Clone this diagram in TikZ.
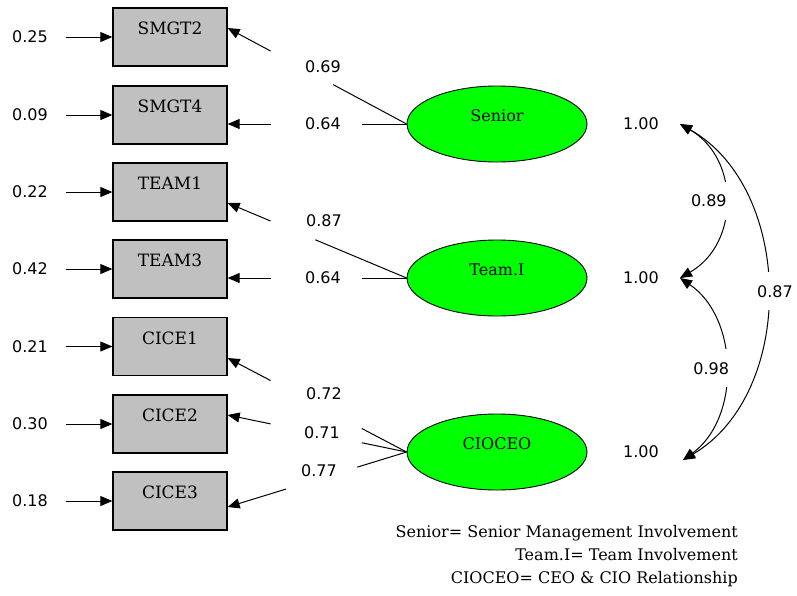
\documentclass[tikz,border=0pt]{standalone}
\usepackage{fontspec}
\setmainfont{DejaVu Serif}
\setsansfont{DejaVu Sans}
\usetikzlibrary{arrows.meta,calc,shapes.geometric}
\definecolor{boxgray}{RGB}{192,192,192}
\definecolor{latgreen}{RGB}{0,255,0}

\begin{document}
\begin{tikzpicture}[x=1pt,y=-1pt,
  obs/.style={draw, line width=1.3pt, fill=boxgray, minimum width=114pt,
    minimum height=58pt, inner sep=0pt, text height=12pt, text depth=17pt,
    font=\fontsize{17}{20}\selectfont},
  lat/.style={ellipse, draw, line width=0.9pt, fill=latgreen, minimum width=180pt,
    minimum height=76pt, inner sep=0pt, text height=12pt, text depth=18pt,
    font=\fontsize{16}{19}\selectfont},
  num/.style={font=\sffamily\fontsize{16}{19}\selectfont, inner sep=2pt},
  cov/.style={num, fill=white, inner xsep=3pt, inner ysep=13pt},
  key/.style={font=\fontsize{16}{19}\selectfont, inner sep=0pt, anchor=base east},
  arr/.style={line width=1pt, -{Triangle[length=12pt,width=10pt]}},
  twoarr/.style={line width=1pt, {Triangle[length=12pt,width=10pt]}-{Triangle[length=12pt,width=10pt]}},
]
\useasboundingbox (0,0) rectangle (797,595);

% observed variables and their errors
\foreach \n/\t/\y/\e in {smgt2/SMGT2/37/0.25, smgt4/SMGT4/115/0.09,
    team1/TEAM1/192/0.22, team3/TEAM3/269/0.42, cice1/CICE1/346.5/0.21,
    cice2/CICE2/424/0.30, cice3/CICE3/501/0.18}
{
  \node[obs] (\n) at (170,\y) {\t};
  \node[num] (e\n) at (30,\y) {\e};
  \draw[arr, shorten <=16pt] (e\n) -- (\n);
}

% latent variables
\node[lat] (sen) at (497,124) {Senior};
\node[lat] (team) at (497,278) {Team.I};
\node[lat] (cio) at (497,452) {CIOCEO};

% loadings
\coordinate (p1) at ([yshift=9pt]smgt2.east);
\coordinate (p2) at ([yshift=-9pt]smgt4.east);
\coordinate (p3) at ([yshift=-11pt]team1.east);
\coordinate (p4) at ([yshift=-9pt]team3.east);
\coordinate (p5) at ([yshift=-11.5pt]cice1.east);
\coordinate (p6) at ([yshift=9pt]cice2.east);
\coordinate (p7) at ([yshift=-6pt]cice3.east);

\foreach \l/\p/\a/\b in {sen/p1/0.41/0.76, sen/p2/0.25/0.76, team/p3/0.51/0.76,
    team/p4/0.25/0.76, cio/p5/0.25/0.76, cio/p6/0.25/0.76, cio/p7/0.275/0.674}
{
  \draw[line width=1pt] (\l.west) -- ($(\l.west)!\a!(\p)$);
  \draw[arr] ($(\l.west)!\b!(\p)$) -- (\p);
}

\node[num] (l1) at (323,67) {0.69};
\node[num] (l2) at (323,124) {0.64};
\node[num] (l3) at (324,221) {0.87};
\node[num] (l4) at (323,278) {0.64};
\node[num] (l5) at (324,394) {0.72};
\node[num] (l6) at (322,433) {0.71};
\node[num] (l7) at (319,471) {0.77};

% variances and correlations
\node[num] (v1) at (641,124) {1.00};
\node[num] (v2) at (641,278) {1.00};
\node[num] (v3) at (641,452) {1.00};

\coordinate (t1) at (680,124);
\coordinate (t2) at (680,278);
\coordinate (t3) at (683,460);

\draw[twoarr] (t1) to[bend left=60, looseness=1.15] node[cov, xshift=-16pt] {0.89} (t2);
\draw[twoarr] (t2) to[bend left=55] node[cov, xshift=-14pt] {0.98} (t3);
\draw[twoarr] (t1) to[bend left=60] node[cov, xshift=8pt] {0.87} (t3);

% legend
\node[key] (k1) at (738,537) {Senior= Senior Management Involvement};
\node[key] (k2) at (738,560) {Team.I= Team Involvement};
\node[key] (k3) at (738,583) {CIOCEO= CEO \& CIO Relationship};

\end{tikzpicture}
\end{document}
